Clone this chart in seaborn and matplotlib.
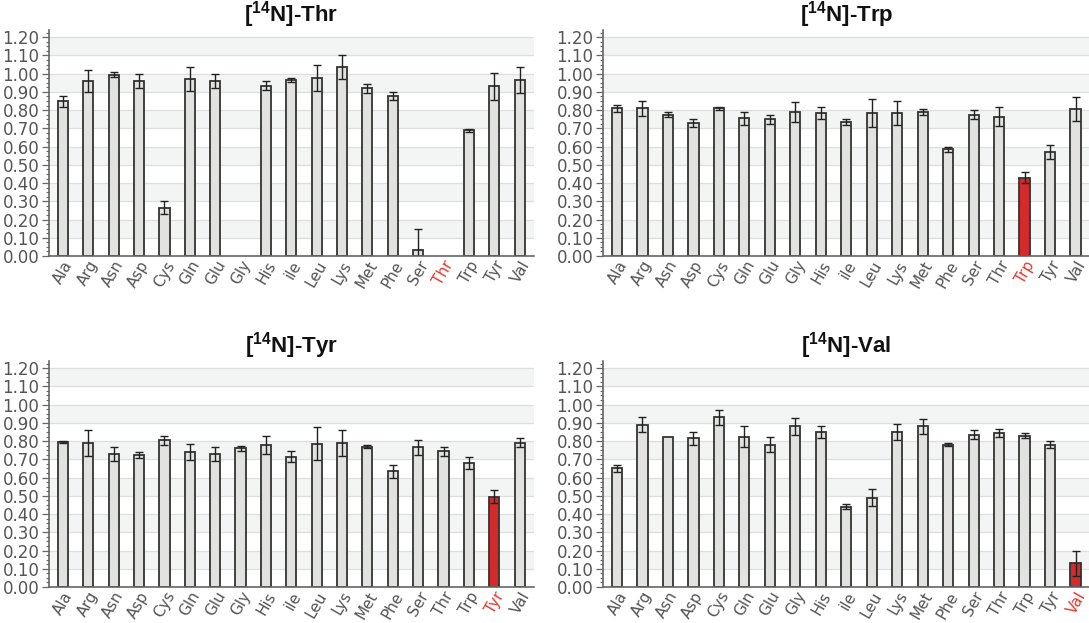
import numpy as np
import pandas as pd
import matplotlib
matplotlib.use("Agg")
import matplotlib.pyplot as plt
from matplotlib.ticker import MultipleLocator, FormatStrFormatter
import seaborn as sns

# Amino acids on the x axis (same order in every panel)
amino_acids = ["Ala", "Arg", "Asn", "Asp", "Cys", "Gln", "Glu", "Gly", "His", "Ile",
               "Leu", "Lys", "Met", "Phe", "Ser", "Thr", "Trp", "Tyr", "Val"]
tick_labels = ["Ala", "Arg", "Asn", "Asp", "Cys", "Gln", "Glu", "Gly", "His", "ile",
               "Leu", "Lys", "Met", "Phe", "Ser", "Thr", "Trp", "Tyr", "Val"]

# Relative signal per amino acid (NaN = not measured) and its error
thr_values = [0.85, 0.96, 0.995, 0.96, 0.265, 0.97, 0.96, np.nan, 0.935, 0.965,
              0.975, 1.035, 0.92, 0.875, 0.035, np.nan, 0.69, 0.93, 0.965]
thr_errors = [0.03, 0.06, 0.012, 0.04, 0.035, 0.065, 0.04, 0.0, 0.025, 0.012,
              0.07, 0.065, 0.025, 0.022, 0.115, 0.0, 0.008, 0.075, 0.07]

trp_values = [0.81, 0.81, 0.775, 0.73, 0.81, 0.755, 0.75, 0.79, 0.785, 0.735,
              0.785, 0.785, 0.79, 0.585, 0.775, 0.765, 0.43, 0.57, 0.805]
trp_errors = [0.02, 0.04, 0.015, 0.02, 0.008, 0.035, 0.025, 0.055, 0.035, 0.015,
              0.075, 0.065, 0.015, 0.015, 0.025, 0.05, 0.03, 0.04, 0.065]

tyr_values = [0.795, 0.79, 0.73, 0.725, 0.805, 0.74, 0.73, 0.76, 0.78, 0.715,
              0.785, 0.79, 0.77, 0.635, 0.765, 0.745, 0.68, 0.495, 0.79]
tyr_errors = [0.005, 0.07, 0.04, 0.015, 0.025, 0.045, 0.04, 0.015, 0.05, 0.03,
              0.09, 0.07, 0.008, 0.035, 0.04, 0.025, 0.035, 0.035, 0.025]

val_values = [0.65, 0.89, 0.82, 0.815, 0.93, 0.825, 0.78, 0.88, 0.85, 0.44,
              0.49, 0.85, 0.88, 0.78, 0.835, 0.845, 0.83, 0.78, 0.13]
val_errors = [0.02, 0.04, 0.0, 0.035, 0.04, 0.055, 0.04, 0.045, 0.035, 0.015,
              0.045, 0.045, 0.04, 0.008, 0.025, 0.02, 0.015, 0.02, 0.07]

panels = [
    ("Thr", thr_values, thr_errors),
    ("Trp", trp_values, trp_errors),
    ("Tyr", tyr_values, tyr_errors),
    ("Val", val_values, val_errors),
]

BAR_GREY = "#e2e2e0"
BAR_RED = "#d42a2a"
LABEL_RED = "#e8392f"
AXIS_GREY = "#666666"
TEXT_GREY = "#555555"

sns.set_style("white")
plt.rcParams["font.family"] = ["DejaVu Sans"]
plt.rcParams["mathtext.fontset"] = "custom"
plt.rcParams["mathtext.rm"] = "Liberation Sans:bold"
plt.rcParams["mathtext.it"] = "Liberation Sans:bold"
plt.rcParams["mathtext.bf"] = "Liberation Sans:bold"
plt.rcParams["mathtext.default"] = "rm"

fig = plt.figure(figsize=(10.89, 6.23), dpi=100)
positions = [
    [0.045, 0.589, 0.445, 0.363],
    [0.5537, 0.589, 0.4468, 0.363],
    [0.045, 0.0578, 0.445, 0.363],
    [0.5537, 0.0578, 0.4468, 0.363],
]

for (target, values, errors), pos in zip(panels, positions):
    ax = fig.add_axes(pos)
    df = pd.DataFrame({"amino_acid": amino_acids, "value": values, "error": errors})
    palette = {aa: (BAR_RED if aa == target else BAR_GREY) for aa in amino_acids}

    # alternating horizontal bands and light grid lines
    for lo in np.arange(0.1, 1.2, 0.2):
        ax.axhspan(lo, lo + 0.1, color="#f3f4f4", zorder=0, lw=0)
    for g in np.arange(0.1, 1.21, 0.1):
        ax.axhline(g, color="#dedede", lw=0.9, zorder=0.5)

    sns.barplot(data=df, x="amino_acid", y="value", hue="amino_acid",
                order=amino_acids, hue_order=amino_acids, palette=palette,
                width=0.4, edgecolor="#333333", linewidth=1.3,
                errorbar=None, legend=False, ax=ax, zorder=2, saturation=1)

    # error bars placed on the categorical positions of the bar axis
    tick_pos = dict(zip([t.get_text() for t in ax.get_xticklabels()], ax.get_xticks()))
    xs = [tick_pos[a] for a in df["amino_acid"]]
    mask = ~df["value"].isna() & (df["error"] > 0)
    ax.errorbar(np.array(xs)[mask], df["value"][mask], yerr=df["error"][mask],
                fmt="none", ecolor="#222222", elinewidth=1.0, capsize=3.2,
                capthick=1.0, zorder=3)

    ax.set_xlim(-0.55, len(amino_acids) - 0.45)
    ax.set_ylim(0, 1.24)
    ax.yaxis.set_major_locator(MultipleLocator(0.1))
    ax.yaxis.set_minor_locator(MultipleLocator(0.025))
    ax.yaxis.set_major_formatter(FormatStrFormatter("%.2f"))
    ax.set_yticks(np.round(np.arange(0, 1.21, 0.1), 2))

    ax.set_xlabel("")
    ax.set_ylabel("")
    ax.set_xticks(range(len(amino_acids)))
    ax.set_xticklabels(tick_labels, rotation=60, ha="right",
                       rotation_mode="anchor", fontsize=11, color=TEXT_GREY)
    for lbl, aa in zip(ax.get_xticklabels(), amino_acids):
        if aa == target:
            lbl.set_color(LABEL_RED)

    ax.tick_params(axis="y", which="major", length=5, width=0.9, color=AXIS_GREY,
                   labelsize=12, labelcolor=TEXT_GREY, left=True, pad=2)
    ax.tick_params(axis="y", which="minor", length=2.5, width=0.8, color=AXIS_GREY, left=True)
    ax.tick_params(axis="x", which="both", length=0, pad=1.5)

    for side in ("top", "right"):
        ax.spines[side].set_visible(False)
    for side in ("left", "bottom"):
        ax.spines[side].set_color(AXIS_GREY)
        ax.spines[side].set_linewidth(1.2)
        ax.spines[side].set_zorder(4)

    ax.set_title(r"[$^{14}$N]-" + target, fontsize=16, fontweight="bold",
                 family="Liberation Sans", color="#111111", pad=6)

fig.savefig("out.png", dpi=100)
